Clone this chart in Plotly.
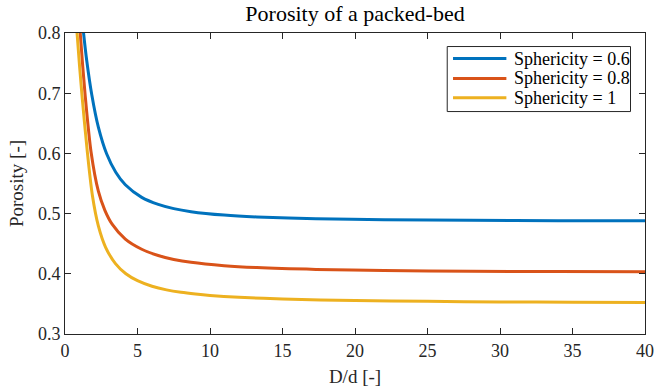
import plotly.graph_objects as go

# Porosity vs. tube-to-particle diameter ratio for three particle sphericities
ratio_06 = [1.12, 1.28, 1.5, 1.85, 2.3, 2.87, 3.5, 4.16, 5.29, 6.43, 7.5, 8.69, 10.97, 13.23, 17.3, 22, 28, 34, 40]
poros_06 = [0.840, 0.800, 0.754, 0.697, 0.6436, 0.5994, 0.5688, 0.5479, 0.5270, 0.5152, 0.5082, 0.5032, 0.4975, 0.4944, 0.4915, 0.4899, 0.4889, 0.4883, 0.4880]

ratio_08 = [0.97, 1.05, 1.39, 1.80, 2.3, 2.75, 3.25, 4.16, 5.29, 6.43, 7.5, 8.69, 10.97, 13.23, 17.31, 22, 28, 34, 40]
poros_08 = [0.833, 0.800, 0.697, 0.602, 0.5373, 0.5055, 0.4825, 0.4576, 0.4408, 0.4304, 0.4239, 0.4190, 0.4135, 0.4103, 0.4073, 0.4055, 0.4043, 0.4037, 0.4033]

ratio_10 = [0.75, 0.83, 1.17, 1.55, 1.89, 2.3, 2.8, 3.48, 4.2, 5.0, 6.0, 7.0, 8.0, 9.0, 10, 12, 15, 20, 25, 30, 35, 40]
poros_10 = [0.836, 0.800, 0.697, 0.600, 0.530, 0.4795, 0.444, 0.417, 0.400, 0.3885, 0.3793, 0.3733, 0.3692, 0.3663, 0.3640, 0.3610, 0.3583, 0.3555, 0.3542, 0.3533, 0.3528, 0.3524]

series_names = ["Sphericity = 0.6", "Sphericity = 0.8", "Sphericity = 1"]
series_colors = ["#0072BD", "#D95319", "#EDB120"]

x_ticks = [0, 5, 10, 15, 20, 25, 30, 35, 40]
y_ticks = [0.3, 0.4, 0.5, 0.6, 0.7, 0.8]

FONT = "Liberation Serif, Times New Roman, serif"
AX = "#262626"

fig = go.Figure()
for xs, ys, name, col in zip([ratio_06, ratio_08, ratio_10],
                             [poros_06, poros_08, poros_10],
                             series_names, series_colors):
    fig.add_trace(go.Scatter(x=xs, y=ys, mode="lines", name=name,
                             line=dict(color=col, width=3, shape="spline", smoothing=0.8),
                             showlegend=False))

axis_common = dict(showline=True, linecolor=AX, linewidth=1, mirror="ticks",
                   ticks="inside", ticklen=6, tickcolor=AX, tickwidth=1,
                   showgrid=False, zeroline=False,
                   tickfont=dict(family=FONT, size=18, color=AX))

fig.update_xaxes(range=[0, 40], tickvals=x_ticks, ticktext=[str(v) for v in x_ticks],
                 ticklabeloverflow="allow",
                 title=dict(text="D/d [-]", font=dict(family=FONT, size=19, color=AX), standoff=10),
                 **axis_common)
fig.update_yaxes(range=[0.3, 0.8], tickvals=y_ticks, ticktext=[f"{v:.1f}" for v in y_ticks],
                 title=dict(text="Porosity [-]", font=dict(family=FONT, size=19, color=AX), standoff=9),
                 **axis_common)

# Legend box drawn in paper coordinates with long line samples
lx0, lx1, ly0, ly1 = 0.659, 0.975, 0.739, 0.955
shapes = [dict(type="rect", xref="paper", yref="paper", x0=lx0, x1=lx1, y0=ly0, y1=ly1,
               line=dict(color=AX, width=1), fillcolor="white", layer="above")]
annotations = []
row_y = [0.915, 0.849, 0.785]
for ry, name, col in zip(row_y, series_names, series_colors):
    shapes.append(dict(type="line", xref="paper", yref="paper", x0=0.669, x1=0.761, y0=ry, y1=ry,
                       line=dict(color=col, width=3), layer="above"))
    annotations.append(dict(xref="paper", yref="paper", x=0.770, y=ry, xanchor="left", yanchor="middle",
                            text=name, showarrow=False,
                            font=dict(family=FONT, size=18, color="black")))

fig.update_layout(
    width=662, height=392,
    margin=dict(l=65, r=8, t=33, b=58),
    paper_bgcolor="white", plot_bgcolor="white",
    title=dict(text="Porosity of a packed-bed", x=0.5, xref="paper", xanchor="center",
               y=1 - 13 / 392, yref="container", yanchor="middle",
               font=dict(family=FONT, size=22, color="black")),
    shapes=shapes, annotations=annotations,
    showlegend=False,
)

fig.write_html("out.html")
